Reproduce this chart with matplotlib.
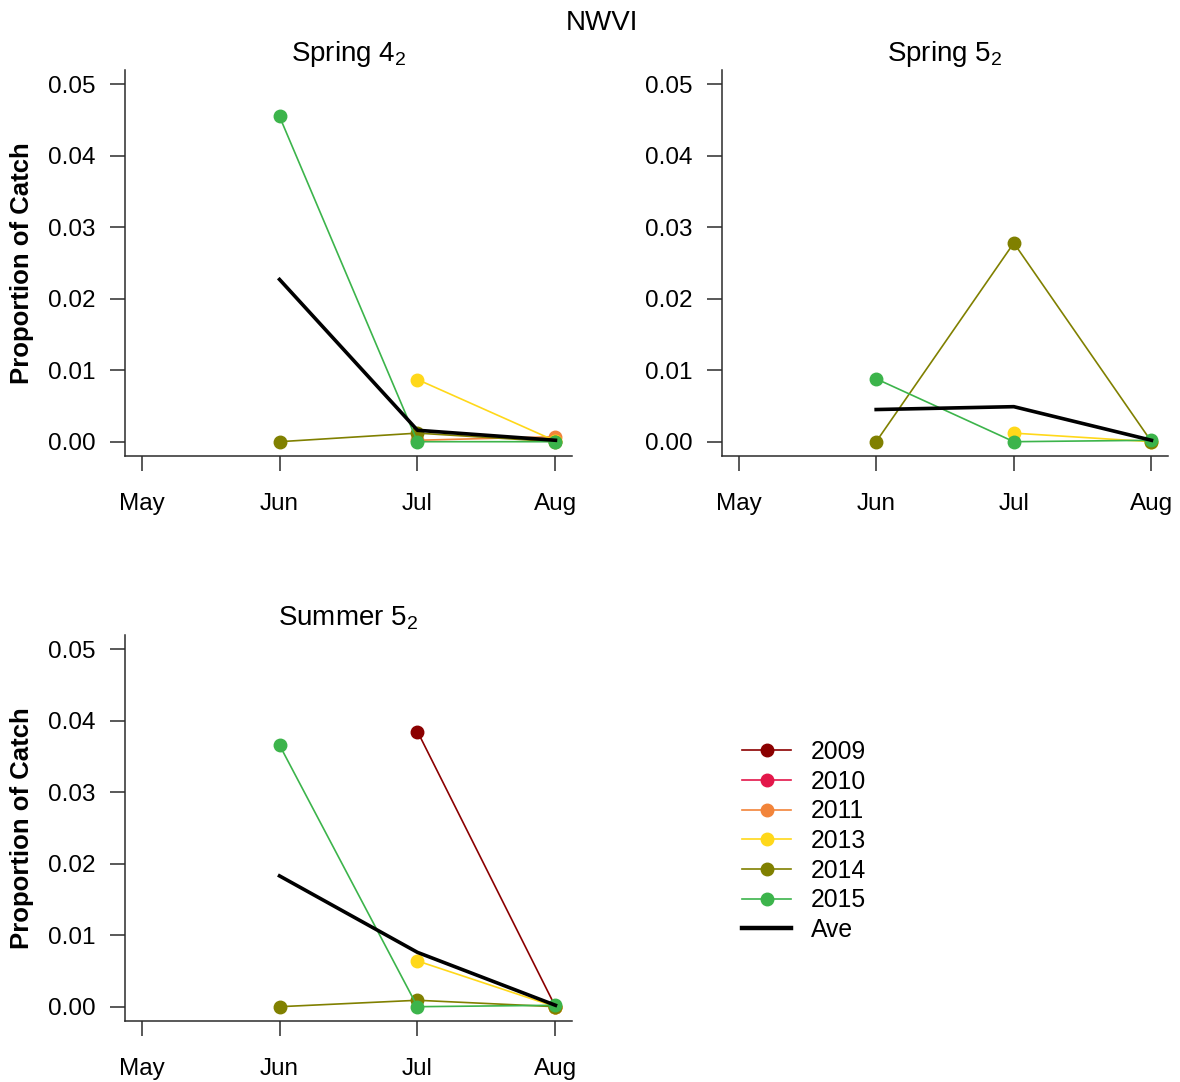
import numpy as np
import matplotlib
matplotlib.use("Agg")
import matplotlib.pyplot as plt
from matplotlib.lines import Line2D

plt.rcParams['font.family'] = ['Liberation Sans', 'DejaVu Sans']
plt.rcParams['mathtext.fontset'] = 'custom'
plt.rcParams['mathtext.rm'] = 'Liberation Sans'
plt.rcParams['mathtext.it'] = 'Liberation Sans:italic'
plt.rcParams['mathtext.bf'] = 'Liberation Sans:bold'

nan = np.nan

# meses (May=5 ... Aug=8)
months = [5, 6, 7, 8]
month_labels = ['May', 'Jun', 'Jul', 'Aug']
years = ['2009', '2010', '2011', '2013', '2014', '2015']
year_colors = ['#8B0000', '#E3174A', '#F2843A', '#FFD81A', '#808000', '#3CB44B']

# proporção da captura por ano (May, Jun, Jul, Aug)
spring4 = {
    '2011': [nan, nan, 0.0002, 0.0007],
    '2013': [nan, nan, 0.0087, 0.0001],
    '2014': [nan, 0.0, 0.0012, 0.0],
    '2015': [nan, 0.0455, 0.0, 0.0],
}
spring4_ave = [nan, 0.0227, 0.0016, 0.0002]

spring5 = {
    '2013': [nan, nan, 0.0012, 0.0],
    '2014': [nan, 0.0, 0.0278, 0.0],
    '2015': [nan, 0.0088, 0.0, 0.0002],
}
spring5_ave = [nan, 0.0045, 0.0049, 0.0002]

summer5 = {
    '2009': [nan, nan, 0.0385, 0.0],
    '2011': [nan, nan, nan, -0.0001],
    '2013': [nan, nan, 0.0064, 0.0],
    '2014': [nan, 0.0, 0.0009, 0.0],
    '2015': [nan, 0.0366, 0.0, 0.0002],
}
summer5_ave = [nan, 0.0183, 0.0076, 0.0002]

W, H = 1180, 1082
fig = plt.figure(figsize=(W / 100, H / 100), dpi=100)

def px_axes(left, top, right, bottom):
    return fig.add_axes([left / W, 1 - bottom / H, (right - left) / W, (bottom - top) / H])

def plot_painel(ax, dados, ave, titulo):
    for ano, cor in zip(years, year_colors):
        if ano in dados:
            ax.plot(months, dados[ano], color=cor, lw=1.2, marker='o', ms=9,
                    mec=cor, zorder=2)
    ax.plot(months, ave, color='black', lw=2.6, zorder=3)
    ax.set_xlim(4.88, 8.12)
    ax.set_ylim(-0.002, 0.052)
    ax.set_xticks(months)
    ax.set_xticklabels(month_labels)
    ax.set_yticks([0.0, 0.01, 0.02, 0.03, 0.04, 0.05])
    ax.set_yticklabels(['0.00', '0.01', '0.02', '0.03', '0.04', '0.05'])
    ax.tick_params(axis='both', labelsize=17.5, length=11, width=1.1, color='#2b2b2b')
    ax.tick_params(axis='x', pad=15.5)
    ax.tick_params(axis='y', pad=10)
    for s in ['top', 'right']:
        ax.spines[s].set_visible(False)
    for s in ['left', 'bottom']:
        ax.spines[s].set_color('#2b2b2b')
        ax.spines[s].set_linewidth(1.1)
    ax.text(0.5, 1.024, titulo, transform=ax.transAxes, ha='center', va='baseline',
            fontsize=20)

ax1 = px_axes(125, 70, 572, 456)
ax2 = px_axes(722, 70, 1168, 456)
ax3 = px_axes(125, 635, 572, 1021)

plot_painel(ax1, spring4, spring4_ave, 'Spring 4$_2$')
plot_painel(ax2, spring5, spring5_ave, 'Spring 5$_2$')
plot_painel(ax3, summer5, summer5_ave, 'Summer 5$_2$')

for yc in [263, 828]:
    fig.text(22 / W, 1 - yc / H, 'Proportion of Catch', rotation=90, ha='center',
             va='center', fontsize=18.5, fontweight='bold')
fig.text(602 / W, 1 - 23 / H, 'NWVI', ha='center', va='center', fontsize=20)

# legenda
handles = [Line2D([], [], color=c, lw=1.2, marker='o', ms=9, mec=c) for c in year_colors]
handles.append(Line2D([], [], color='black', lw=3.2))
fig.legend(handles, years + ['Ave'], loc='upper left', bbox_to_anchor=(742 / W, 1 - 740 / H),
           frameon=False, fontsize=17.8, borderpad=0, borderaxespad=0,
           handlelength=2.0, handletextpad=0.8, labelspacing=0.23)

fig.savefig('out.png', dpi=100)
